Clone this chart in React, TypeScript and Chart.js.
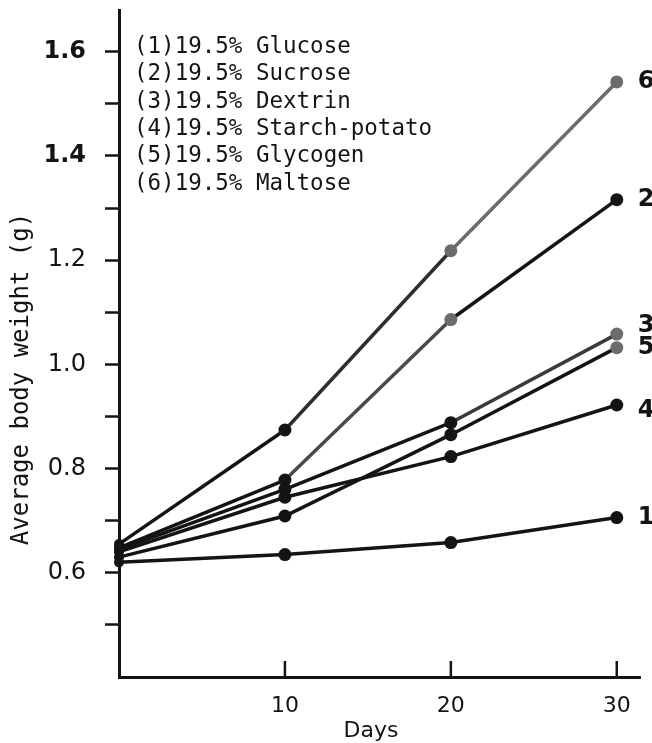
import React, { useEffect, useRef } from "react";
import { Chart, registerables } from "chart.js";

Chart.register(...registerables);

// ---- data ----
const days = [0, 10, 20, 30];
const concentration = "19.5%";
const carbohydrates = ["Glucose", "Sucrose", "Dextrin", "Starch-potato", "Glycogen", "Maltose"];
const glucose = [0.62, 0.635, 0.658, 0.706];
const sucrose = [0.648, 0.778, 1.086, 1.316];
const dextrin = [0.645, 0.76, 0.888, 1.058];
const starchPotato = [0.64, 0.745, 0.823, 0.922];
const glycogen = [0.63, 0.709, 0.865, 1.032];
const maltose = [0.655, 0.874, 1.218, 1.542];
const seriesValues = [glucose, sucrose, dextrin, starchPotato, glycogen, maltose];
const endLabels = ["1", "2", "3", "4", "5", "6"];
const yTickValues = [0.5, 0.6, 0.7, 0.8, 0.9, 1.0, 1.1, 1.2, 1.3, 1.4, 1.5, 1.6];
const yTickLabels = ["0.6", "0.8", "1.0", "1.2", "1.4", "1.6"];
const xTickValues = [10, 20, 30];
const xTickLabels = ["10", "20", "30"];
const yTitle = "Average body weight (g)";
const xTitle = "Days";

// ---- style ----
const INK = "#141414";
const GREY = "#6c6c6c";
const pointTones = [
  [INK, INK, INK, INK],
  [INK, INK, GREY, INK],
  [INK, INK, INK, GREY],
  [INK, INK, INK, INK],
  [INK, INK, INK, GREY],
  [INK, INK, GREY, GREY],
];
const segmentTones = [
  [INK, INK, INK],
  [INK, "#4a4a4a", INK],
  [INK, INK, "#3a3a3a"],
  [INK, INK, INK],
  [INK, INK, INK],
  [INK, "#2e2e2e", GREY],
];
const endLabelDy = [0, 0, -8, 6, 0, 0];

const annotate = {
  id: "annotate",
  afterDraw(chart: any) {
    const { ctx, chartArea } = chart;
    const xs = chart.scales.x;
    ctx.save();
    ctx.strokeStyle = INK;
    ctx.lineWidth = 2.5;
    xTickValues.forEach((v) => {
      const px = xs.getPixelForValue(v);
      ctx.beginPath();
      ctx.moveTo(px, chartArea.bottom);
      ctx.lineTo(px, chartArea.bottom - 16);
      ctx.stroke();
    });
    ctx.fillStyle = INK;
    ctx.font = '22.5px "DejaVu Sans Mono"';
    ctx.textAlign = "left";
    ctx.textBaseline = "middle";
    carbohydrates.forEach((name, i) => {
      ctx.fillText(`(${i + 1})${concentration} ${name}`, chartArea.left + 15, chartArea.top + 37 + i * 27.4);
    });
    ctx.font = 'bold 24px "DejaVu Sans"';
    chart.data.datasets.forEach((ds: any, i: number) => {
      const meta = chart.getDatasetMeta(i);
      const last = meta.data[meta.data.length - 1];
      ctx.fillText(endLabels[i], last.x + 21, last.y + endLabelDy[i]);
    });
    ctx.font = '22px "DejaVu Sans"';
    ctx.textAlign = "center";
    ctx.fillText(xTitle, 371, chartArea.bottom + 54);
    ctx.font = '24px "DejaVu Sans Mono"';
    ctx.translate(22, 379);
    ctx.rotate(-Math.PI / 2);
    ctx.fillText(yTitle, 0, 0);
    ctx.restore();
  },
};

export default function App() {
  const ref = useRef<HTMLCanvasElement | null>(null);
  useEffect(() => {
    if (!ref.current) return;
    const datasets = seriesValues.map((vals, i) => ({
      label: `${concentration} ${carbohydrates[i]}`,
      data: vals.map((v, j) => ({ x: days[j], y: v })),
      borderColor: INK,
      borderWidth: 3.5,
      pointRadius: [5, 6.5, 6.5, 6.5],
      pointBackgroundColor: pointTones[i],
      pointBorderWidth: 0,
      tension: 0,
      clip: false as any,
      segment: {
        borderColor: (c: any) => segmentTones[i][c.p0DataIndex],
      },
    }));
    const chart = new Chart(ref.current, {
      type: "line",
      data: { datasets },
      options: {
        responsive: false,
        animation: false,
        events: [],
        layout: { padding: { top: 10, right: 12, bottom: 0, left: 0 } },
        plugins: { legend: { display: false }, tooltip: { enabled: false } },
        scales: {
          x: {
            type: "linear",
            min: 0,
            max: 31.4,
            afterBuildTicks: (axis: any) => {
              axis.ticks = xTickValues.map((value) => ({ value }));
            },
            afterFit: (s: any) => {
              s.height = 66;
              s.paddingLeft = 0;
              s.paddingRight = 0;
            },
            grid: { display: false, drawTicks: false },
            border: { display: true, width: 3, color: INK },
            ticks: {
              padding: 16,
              color: INK,
              font: { family: "DejaVu Sans", size: 22 },
              callback: (v: any) => xTickLabels[xTickValues.indexOf(Number(v))] ?? "",
            },
          },
          y: {
            type: "linear",
            min: 0.4,
            max: 1.68,
            afterBuildTicks: (axis: any) => {
              axis.ticks = yTickValues.map((value) => ({ value }));
            },
            afterFit: (s: any) => {
              s.width = 119;
              s.paddingTop = 0;
              s.paddingBottom = 0;
            },
            grid: {
              display: true,
              drawOnChartArea: false,
              drawTicks: true,
              tickLength: 14,
              tickWidth: 2.5,
              tickColor: INK,
            },
            border: { display: true, width: 3, color: INK },
            ticks: {
              padding: 19,
              color: INK,
              font: (c: any) => ({
                family: "DejaVu Sans",
                size: 24,
                weight: c.tick && c.tick.value > 1.35 ? "bold" : "normal",
              }),
              callback: (v: any) => {
                const s = Number(v).toFixed(1);
                return yTickLabels.includes(s) ? s : "";
              },
            },
          },
        },
      },
      plugins: [annotate],
    });
    return () => chart.destroy();
  }, []);
  return (
    <div style={{ position: "fixed", left: 0, top: 0, width: 652, height: 743, background: "#fff" }}>
      <canvas ref={ref} width={652} height={743} style={{ display: "block" }} />
    </div>
  );
}
